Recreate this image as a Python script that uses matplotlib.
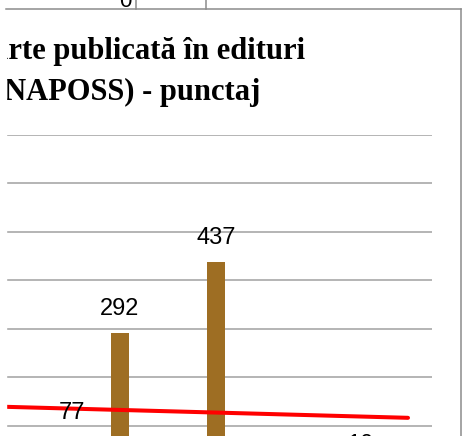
import numpy as np
import matplotlib
matplotlib.use('Agg')
from matplotlib import pyplot as plt
from matplotlib.lines import Line2D
from matplotlib.patches import Rectangle

# data (only the visible right part of the chart)
categories = ['c1', 'c2', 'c3', 'c4', 'c5', 'c6', 'c7', 'c8']
values = [77, 292, 0, 437, 0, 0, 10, 0]
# linear trend read at first and last category
trend_ends = [135, 116]
yticks = [0, 100, 200, 300, 400, 500, 600, 700]

W, H = 462, 436

def fx(x):
    return x / W

def fy(y):
    return 1 - y / H

fig = plt.figure(figsize=(W / 100, H / 100), dpi=100)

# axes extends past the left and bottom edges (cropped chart)
ax = fig.add_axes([fx(-96), fy(474), (432 + 96) / W, (474 - 135) / H])
x = np.arange(len(categories))
ax.bar(x, values, width=0.39, color='#9E6E23', zorder=2)
for xi, v in zip(x, values):
    if v == 0:
        continue  # these labels fall below the cropped picture
    ax.annotate(str(v), (xi, v), xytext=(0, 13), textcoords='offset points',
                ha='center', va='baseline', fontsize=17,
                family='Liberation Sans', color='black', zorder=4)

tx = np.array([-3.5, 7])
coef = np.polyfit([0, 7], trend_ends, 1)
ax.plot(tx, np.polyval(coef, tx), color='#FF0000', lw=2.9,
        solid_capstyle='round', zorder=3)

ax.set_xlim(-3.5, 7.5)
ax.set_ylim(0, 700)
ax.set_yticks(yticks)
ax.yaxis.grid(True, color='#A0A0A0', lw=1.1)
ax.set_axisbelow(True)
ax.tick_params(left=False, bottom=False, labelleft=False, labelbottom=False)
for s in ax.spines.values():
    s.set_visible(False)
ax.patch.set_alpha(0)

# title (left part cut off)
fig.text(fx(305), fy(59), 'Carte publicată în edituri', ha='right', va='baseline',
         fontsize=22, fontweight='bold', family='Liberation Serif')
fig.text(fx(260), fy(100), '(CNAPOSS) - punctaj', ha='right', va='baseline',
         fontsize=22, fontweight='bold', family='Liberation Serif')

# white margin on the left
fig.add_artist(Rectangle((0, 0), fx(6), 1, transform=fig.transFigure,
                         color='white', zorder=10))

# chart border and table fragment above
grey = '#8C8C8C'
fig.add_artist(Line2D([fx(6), fx(461)], [fy(9), fy(9)], color=grey, lw=1.1, zorder=11))
fig.add_artist(Line2D([fx(460.5), fx(460.5)], [fy(9), 0], color=grey, lw=1.1, zorder=11))
for lx in [136, 206]:
    fig.add_artist(Line2D([fx(lx), fx(lx)], [fy(9), 1], color=grey, lw=1.1, zorder=11))
fig.text(fx(132), fy(6.7), '0', ha='right', va='baseline', fontsize=16,
         family='Liberation Sans')

fig.savefig('out.png', dpi=100)
